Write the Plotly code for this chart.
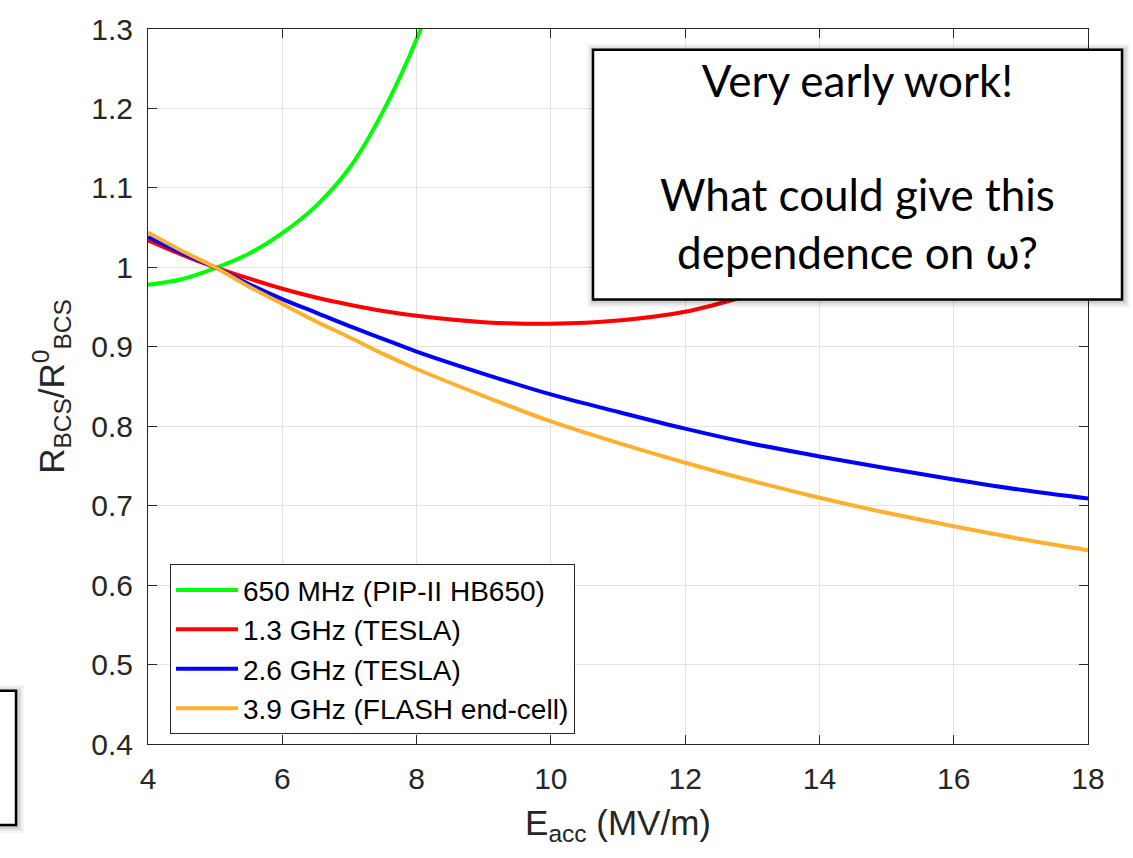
import plotly.graph_objects as go

# Data
x_green = [4.0, 4.5, 5.0, 5.5, 6.0, 6.5, 7.0, 7.5, 8.0, 8.25]
y_green = [0.978, 0.985, 0.999, 1.017, 1.043, 1.077, 1.125, 1.196, 1.287, 1.345]

x_common = [4, 4.5, 5, 5.5, 6, 6.5, 7, 7.5, 8, 9, 10, 11, 12, 13, 14, 15, 16, 17, 18]
y_red = [1.034, 1.016, 1.0, 0.986, 0.973, 0.962, 0.953, 0.945, 0.939, 0.931, 0.929, 0.933, 0.944, 0.966, 0.99, 1.017, 1.05, 1.088, 1.13]
y_blue = [1.038, 1.018, 1.0, 0.979, 0.960, 0.943, 0.926, 0.910, 0.894, 0.866, 0.840, 0.818, 0.797, 0.778, 0.762, 0.747, 0.733, 0.720, 0.709]
y_orange = [1.044, 1.021, 1.0, 0.976, 0.954, 0.932, 0.912, 0.891, 0.872, 0.838, 0.806, 0.779, 0.754, 0.731, 0.710, 0.691, 0.674, 0.658, 0.644]

names = ["650 MHz (PIP-II HB650)", "1.3 GHz (TESLA)", "2.6 GHz (TESLA)", "3.9 GHz (FLASH end-cell)"]
colors = ["#00ff00", "#ff0000", "#0000ff", "#ffb030"]

x_ticks = [4, 6, 8, 10, 12, 14, 16, 18]
y_ticks = [0.4, 0.5, 0.6, 0.7, 0.8, 0.9, 1.0, 1.1, 1.2, 1.3]
y_ticktext = ["0.4", "0.5", "0.6", "0.7", "0.8", "0.9", "1", "1.1", "1.2", "1.3"]

fig = go.Figure()
series = [(x_green, y_green), (x_common, y_red), (x_common, y_blue), (x_common, y_orange)]
for (xs, ys), n, c in zip(series, names, colors):
    fig.add_trace(go.Scatter(x=xs, y=ys, mode="lines", name=n,
                             line=dict(color=c, width=4, shape="spline", smoothing=1.0)))

FAM = "Liberation Sans, Arial, Helvetica, sans-serif"
axis_font = dict(family=FAM, size=30, color="#262626")

fig.update_layout(
    width=1133, height=858,
    margin=dict(l=148, r=45, t=20, b=114),
    paper_bgcolor="white", plot_bgcolor="white",
    font=axis_font,
    showlegend=True,
    legend=dict(x=0.0234, y=0.2514, xanchor="left", yanchor="top",
                bgcolor="white", bordercolor="#262626", borderwidth=1,
                font=dict(family=FAM, size=28, color="black"),
                itemwidth=62, tracegroupgap=0),
    xaxis=dict(range=[4, 18], tickvals=x_ticks, showgrid=True, gridcolor="#e3e3e3", gridwidth=1,
               showline=True, linecolor="#262626", linewidth=1, mirror="ticks",
               ticks="inside", ticklen=9, tickcolor="#262626", zeroline=False,
               tickfont=axis_font, ticklabelstandoff=8,
               title=dict(text="E<sub>acc</sub> (MV/m)", font=dict(family=FAM, size=35, color="#262626"), standoff=16)),
    yaxis=dict(range=[0.4, 1.3], tickvals=y_ticks, ticktext=y_ticktext, showgrid=True,
               gridcolor="#e3e3e3", gridwidth=1,
               showline=True, linecolor="#262626", linewidth=1, mirror="ticks",
               ticks="inside", ticklen=9, tickcolor="#262626", zeroline=False,
               tickfont=axis_font, ticklabelstandoff=8,
               title=dict(text="R<sub>BCS</sub>/R<sup>0</sup><sub>BCS</sub>", font=dict(family=FAM, size=35, color="#262626"), standoff=16)),
)

def px_to_paper_x(px):
    return (px - 148) / 940.0

def px_to_paper_y(py):
    return (744 - py) / 724.0

# soft shadows for the boxes
for off, op in [(8, 0.04), (6, 0.06), (4, 0.08), (2, 0.1)]:
    fig.add_shape(type="rect", xref="paper", yref="paper",
                  x0=px_to_paper_x(593 - off + 2), x1=px_to_paper_x(1122 + off),
                  y0=px_to_paper_y(294 + off), y1=px_to_paper_y(41 - off + 2),
                  line=dict(width=0), fillcolor="black", opacity=op, layer="above")
    fig.add_shape(type="rect", xref="paper", yref="paper",
                  x0=px_to_paper_x(-20), x1=px_to_paper_x(16 + off),
                  y0=px_to_paper_y(826 + off), y1=px_to_paper_y(690 - off + 2),
                  line=dict(width=0), fillcolor="black", opacity=op, layer="above")

fig.add_shape(type="rect", xref="paper", yref="paper",
              x0=px_to_paper_x(593), x1=px_to_paper_x(1122),
              y0=px_to_paper_y(294), y1=px_to_paper_y(41),
              line=dict(color="black", width=2.5), fillcolor="white", layer="above")
fig.add_shape(type="rect", xref="paper", yref="paper",
              x0=px_to_paper_x(-20), x1=px_to_paper_x(16),
              y0=px_to_paper_y(826), y1=px_to_paper_y(690),
              line=dict(color="black", width=2.5), fillcolor="white", layer="above")

fig.add_annotation(xref="paper", yref="paper",
                   x=px_to_paper_x(857.5), y=px_to_paper_y(159),
                   xanchor="center", yanchor="middle", showarrow=False,
                   text="Very early work!<br><br>What could give this<br>dependence on ω?",
                   align="center",
                   font=dict(family="Lato, Noto Sans, sans-serif", size=44, color="black"))

fig.write_html("out.html")
